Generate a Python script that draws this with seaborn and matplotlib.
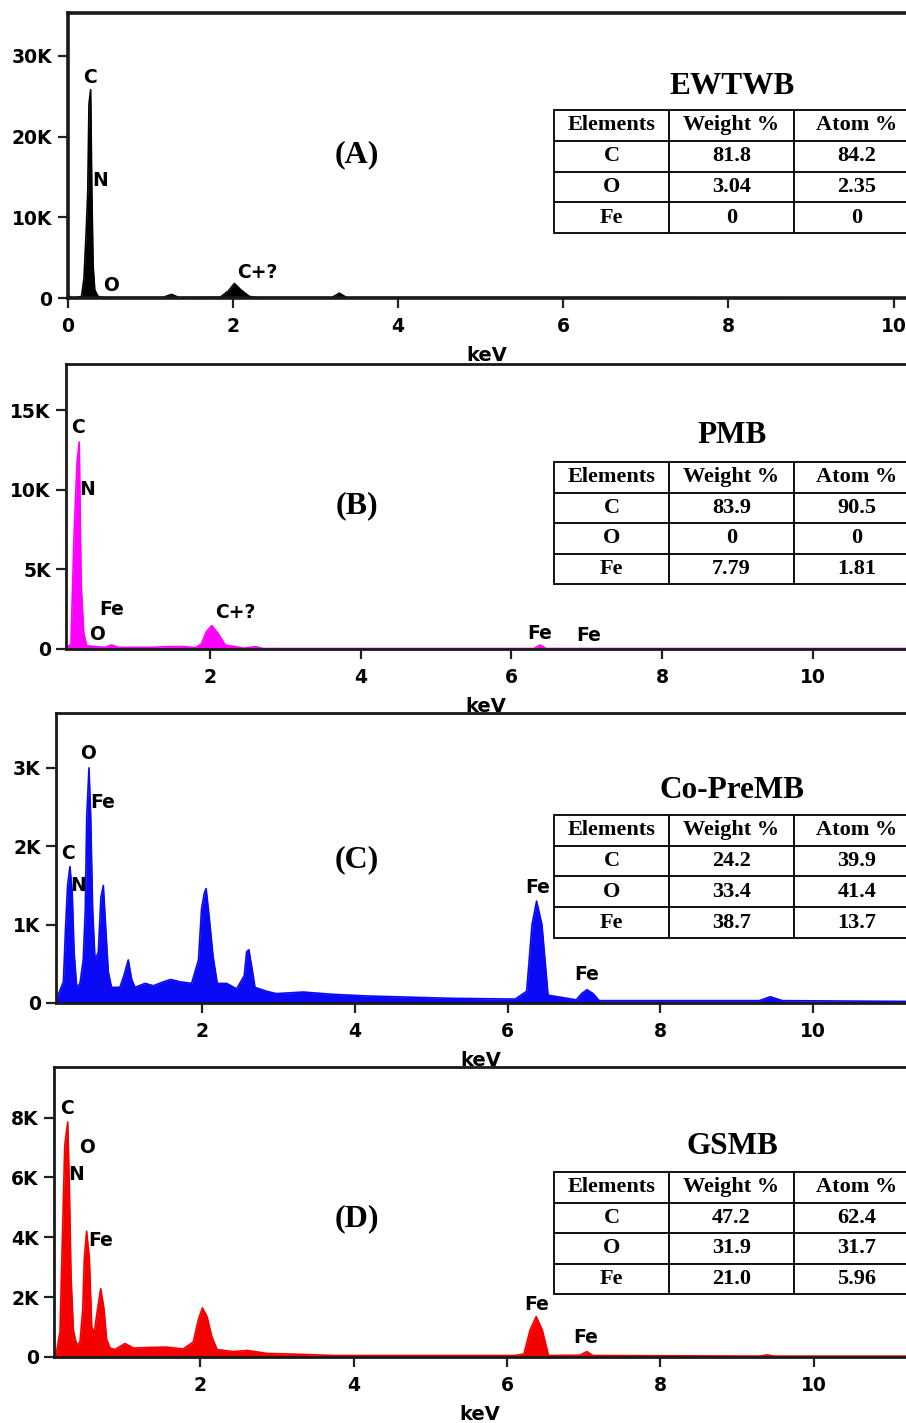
import matplotlib
matplotlib.use("Agg")
import matplotlib.pyplot as plt
import seaborn as sns

# ---------------------------------------------------------
# EDS spectra (keV vs counts, in thousands) + composition tables
# ---------------------------------------------------------

# --- spectrum A (EWTWB) ---
kev_a = [0.0, 0.05, 0.10, 0.17, 0.20, 0.225, 0.245, 0.26, 0.28, 0.295, 0.31, 0.33, 0.37, 0.45,
         1.15, 1.26, 1.35, 1.85, 1.95, 2.02, 2.10, 2.20, 2.30, 3.20, 3.29, 3.38, 10.3]
cnt_a = [0.35, 0.05, 0.05, 0.2, 2.5, 8.0, 13.0, 24.0, 25.8, 13.0, 4.0, 1.0, 0.2, 0.05,
         0.05, 0.45, 0.05, 0.1, 0.9, 1.8, 1.0, 0.2, 0.05, 0.05, 0.6, 0.05, 0.02]

# --- spectrum B (PMB) ---
kev_b = [0.08, 0.15, 0.19, 0.23, 0.26, 0.285, 0.32, 0.36, 0.60, 0.69, 0.78, 1.20, 1.45, 1.65,
         1.80, 1.88, 1.95, 2.02, 2.10, 2.20, 2.33, 2.45, 2.60, 2.70, 6.30, 6.38, 6.46, 11.3]
cnt_b = [0.05, 0.3, 7.0, 11.7, 13.0, 4.1, 1.0, 0.2, 0.1, 0.25, 0.1, 0.1, 0.15, 0.15,
         0.08, 0.3, 1.1, 1.47, 1.0, 0.25, 0.15, 0.05, 0.15, 0.03, 0.03, 0.25, 0.03, 0.03]

# --- spectrum C (Co-PreMB) ---
kev_c = [0.08, 0.11, 0.18, 0.21, 0.235, 0.266, 0.296, 0.32, 0.354, 0.397, 0.44, 0.467, 0.485,
         0.515, 0.537, 0.563, 0.594, 0.637, 0.672, 0.703, 0.738, 0.768, 0.81, 0.92, 0.973,
         1.03, 1.075, 1.118, 1.25, 1.36, 1.49, 1.585, 1.71, 1.86, 1.95, 1.99, 2.026, 2.05,
         2.09, 2.14, 2.196, 2.32, 2.45, 2.55, 2.58, 2.61, 2.65, 2.69, 2.84, 2.97, 3.32, 3.72,
         4.15, 5.25, 6.1, 6.25, 6.32, 6.38, 6.45, 6.53, 6.9, 6.97, 7.04, 7.12, 7.2, 9.3,
         9.44, 9.6, 11.3]
cnt_c = [0.02, 0.1, 0.27, 1.0, 1.5, 1.74, 1.4, 0.65, 0.2, 0.25, 0.55, 1.2, 2.35,
         3.0, 2.4, 1.2, 0.55, 0.65, 1.35, 1.5, 0.9, 0.4, 0.2, 0.2, 0.35,
         0.55, 0.3, 0.2, 0.25, 0.22, 0.27, 0.3, 0.27, 0.25, 0.55, 1.2, 1.4, 1.46,
         1.1, 0.6, 0.25, 0.25, 0.18, 0.35, 0.65, 0.68, 0.45, 0.2, 0.15, 0.12, 0.14, 0.11,
         0.09, 0.06, 0.05, 0.15, 1.0, 1.3, 1.0, 0.1, 0.04, 0.12, 0.17, 0.12, 0.03, 0.03,
         0.08, 0.03, 0.02]

# --- spectrum D (GSMB) ---
kev_d = [0.095, 0.13, 0.173, 0.21, 0.235, 0.274, 0.295, 0.317, 0.347, 0.39, 0.434, 0.47, 0.49,
         0.52, 0.556, 0.587, 0.62, 0.66, 0.704, 0.747, 0.78, 0.825, 0.89, 1.02, 1.13, 1.35,
         1.56, 1.78, 1.91, 1.98, 2.03, 2.09, 2.15, 2.22, 2.43, 2.61, 2.87, 3.30, 3.74, 6.1,
         6.22, 6.3, 6.38, 6.46, 6.54, 6.95, 7.04, 7.12, 9.3, 9.39, 9.48, 11.3]
cnt_d = [0.05, 0.2, 0.84, 4.5, 7.07, 7.85, 5.68, 2.7, 0.9, 0.4, 0.5, 1.6, 3.28,
         4.2, 3.3, 1.0, 0.8, 1.55, 2.28, 1.6, 0.6, 0.3, 0.25, 0.45, 0.3, 0.32,
         0.33, 0.27, 0.5, 1.28, 1.64, 1.35, 0.7, 0.25, 0.18, 0.22, 0.12, 0.09, 0.05, 0.05,
         0.1, 0.9, 1.35, 0.9, 0.05, 0.06, 0.18, 0.05, 0.03, 0.07, 0.03, 0.03]

# --- peak labels: (text, keV, count) ---
peaks_a = [("C", 0.27, 27.3), ("N", 0.39, 14.5), ("O", 0.53, 1.6), ("C+?", 2.3, 3.2)]
peaks_b = [("C", 0.25, 13.9), ("N", 0.37, 10.0), ("Fe", 0.69, 2.5), ("O", 0.50, 0.9),
           ("C+?", 2.33, 2.3), ("Fe", 6.37, 1.0), ("Fe", 7.02, 0.85)]
peaks_c = [("O", 0.50, 3.18), ("Fe", 0.69, 2.56), ("C", 0.24, 1.91), ("N", 0.37, 1.5),
           ("Fe", 6.39, 1.47), ("Fe", 7.04, 0.37)]
peaks_d = [("C", 0.26, 8.3), ("O", 0.53, 7.0), ("N", 0.38, 6.1), ("Fe", 0.70, 3.9),
           ("Fe", 6.38, 1.75), ("Fe", 7.03, 0.65)]

# --- axis ticks ---
xticks_a = [0, 2, 4, 6, 8, 10]
xticks_rest = [2, 4, 6, 8, 10]
yticks_a = [0, 10, 20, 30]
yticks_b = [0, 5, 10, 15]
yticks_c = [0, 1, 2, 3]
yticks_d = [0, 2, 4, 6, 8]

# --- composition tables ---
tbl_header = ["Elements", "Weight %", "Atom %"]
tbl_elements = ["C", "O", "Fe"]
names = ["EWTWB", "PMB", "Co-PreMB", "GSMB"]
panel_tags = ["(A)", "(B)", "(C)", "(D)"]
weight_a = ["81.8", "3.04", "0"]
atom_a = ["84.2", "2.35", "0"]
weight_b = ["83.9", "0", "7.79"]
atom_b = ["90.5", "0", "1.81"]
weight_c = ["24.2", "33.4", "38.7"]
atom_c = ["39.9", "41.4", "13.7"]
weight_d = ["47.2", "31.9", "21.0"]
atom_d = ["62.4", "31.7", "5.96"]

sns.set_theme(style="white")
plt.rcParams["font.family"] = ["DejaVu Sans"]
plt.rcParams["font.weight"] = "bold"
plt.rcParams["axes.labelweight"] = "bold"
plt.rcParams["text.color"] = "black"
plt.rcParams["axes.labelcolor"] = "black"

W, H = 906, 1423
fig = plt.figure(figsize=(W / 100, H / 100), dpi=100)
fig.patch.set_facecolor("white")


def fbox(x0, y0, x1, y1):
    # pixel box (top-left origin) -> figure fraction rect
    return [x0 / W, 1 - y1 / H, (x1 - x0) / W, (y1 - y0) / H]


# panel layout: pixel box, x range, y top, colour
panels = [
    dict(box=(67.5, 13, 906, 298), xlim=(0, 10.15), ytop=35.3, color="black",
         kev=kev_a, cnt=cnt_a, peaks=peaks_a, xt=xticks_a, yt=yticks_a,
         w=weight_a, a=atom_a, tbl=(554, 110, 920, 233), title_y=87, tag_y=155, spw=2.6),
    dict(box=(66, 364, 906, 649), xlim=(0.084, 11.24), ytop=17.9, color="#ff00ff",
         kev=kev_b, cnt=cnt_b, peaks=peaks_b, xt=xticks_rest, yt=yticks_b,
         w=weight_b, a=atom_b, tbl=(554, 462, 920, 584), title_y=436, tag_y=506, spw=2.0),
    dict(box=(56, 713, 906, 1003), xlim=(0.083, 11.22), ytop=3.70, color="#0a0af5",
         kev=kev_c, cnt=cnt_c, peaks=peaks_c, xt=xticks_rest, yt=yticks_c,
         w=weight_c, a=atom_c, tbl=(554, 815, 920, 938), title_y=791, tag_y=860, spw=2.0),
    dict(box=(54, 1067, 906, 1357), xlim=(0.095, 11.2), ytop=9.69, color="#f50000",
         kev=kev_d, cnt=cnt_d, peaks=peaks_d, xt=xticks_rest, yt=yticks_d,
         w=weight_d, a=atom_d, tbl=(554, 1172, 920, 1294), title_y=1147, tag_y=1219, spw=2.0),
]

for i, p in enumerate(panels):
    ax = fig.add_axes(fbox(*p["box"]))
    ax.set_facecolor("white")
    ax.fill_between(p["kev"], p["cnt"], 0, color=p["color"], lw=0)
    sns.lineplot(x=p["kev"], y=p["cnt"], ax=ax, color=p["color"], lw=1.2,
                 sort=False, estimator=None)
    ax.set_xlim(*p["xlim"])
    ax.set_ylim(0, p["ytop"])
    ax.set_xticks(p["xt"])
    ax.set_xticklabels([str(t) for t in p["xt"]])
    ax.set_yticks(p["yt"])
    ax.set_yticklabels(["0" if t == 0 else f"{t}K" for t in p["yt"]])
    ax.tick_params(axis="both", direction="out", length=7, width=1.6, colors="#222222",
                   labelsize=13.5, labelcolor="black", pad=4, bottom=True, left=True)
    ax.tick_params(axis="x", pad=7)
    for s in ["left", "top", "bottom"]:
        ax.spines[s].set_linewidth(p["spw"])
        ax.spines[s].set_color("#1a1a1a")
    ax.spines["right"].set_visible(False)
    ax.set_xlabel("keV", fontsize=14, labelpad=7, color="black")
    for txt, x, y in p["peaks"]:
        ax.text(x, y, txt, ha="center", va="center", fontsize=13.5, fontweight="bold",
                color="black")

    # panel tag and sample name
    fig.text(357 / W, 1 - p["tag_y"] / H, panel_tags[i], ha="center", va="center",
             fontsize=23, fontweight="bold", family=["Liberation Serif"], color="black")
    fig.text(732 / W, 1 - p["title_y"] / H, names[i], ha="center", va="center",
             fontsize=22.5, fontweight="bold", family=["Liberation Serif"], color="black")

    # composition table
    tx = fig.add_axes(fbox(*p["tbl"]))
    tx.axis("off")
    rows = [[e, w, a] for e, w, a in zip(tbl_elements, p["w"], p["a"])]
    t = tx.table(cellText=rows, colLabels=tbl_header, cellLoc="center",
                 colWidths=[115, 125, 126], bbox=[0, 0, 1, 1])
    t.auto_set_font_size(False)
    for cell in t.get_celld().values():
        cell.set_linewidth(1.4)
        cell.set_edgecolor("#111111")
        cell.get_text().set_fontfamily(["Liberation Serif"])
        cell.get_text().set_fontweight("bold")
        cell.get_text().set_fontsize(16)
        cell.get_text().set_color("black")

fig.savefig("out.png", dpi=100)
